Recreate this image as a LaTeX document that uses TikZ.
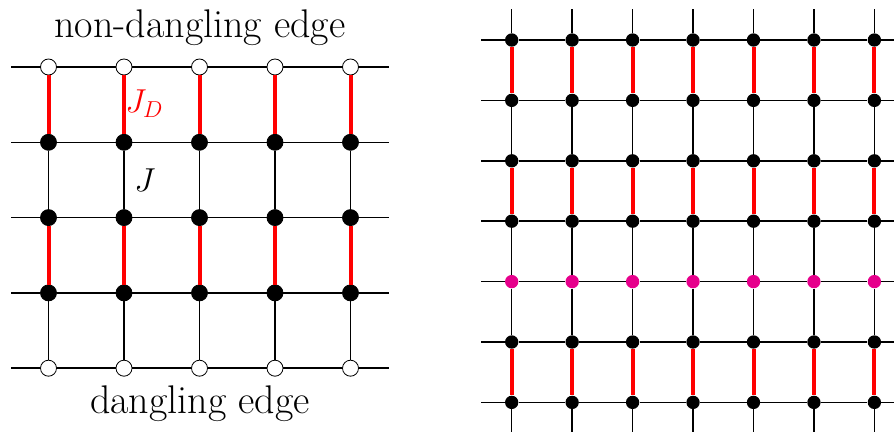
\documentclass[tikz,border=0pt]{standalone}
\usepackage{amsmath}
\definecolor{sitemagenta}{RGB}{230,0,140}

\begin{document}
\begin{tikzpicture}[
  x=0.75pt, y=-0.75pt,
  site/.style={circle, draw, fill=black, line width=0.6pt, minimum size=12pt, inner sep=0pt},
  edgesite/.style={circle, draw, fill=white, line width=0.6pt, minimum size=12pt, inner sep=0pt},
  smallsite/.style={circle, fill=black, minimum size=10pt, inner sep=0pt},
  cutsite/.style={circle, fill=sitemagenta, minimum size=10pt, inner sep=0pt},
  bond/.style={line width=1.1pt},
  dimer/.style={line width=3pt, red},
  caption/.style={font=\fontsize{30}{34}\selectfont, inner sep=0pt},
  coupling/.style={font=\fontsize{24}{27}\selectfont, inner sep=0pt}
]
  \useasboundingbox (0,0) rectangle (894,432);

  % Left panel: five columns, open sites on the top and bottom rows.
  \foreach \i in {1,...,5} {
    \foreach \j in {1,...,5} {
      \pgfmathsetmacro{\xx}{48.5+75.5*(\i-1)}
      \pgfmathsetmacro{\yy}{67+75.3*(\j-1)}
      \ifnum\j=1
        \node[edgesite] (L-\i-\j) at (\xx,\yy) {};
      \else\ifnum\j=5
        \node[edgesite] (L-\i-\j) at (\xx,\yy) {};
      \else
        \node[site] (L-\i-\j) at (\xx,\yy) {};
      \fi\fi
    }
  }
  \foreach \j in {1,...,5} {
    \pgfmathsetmacro{\yy}{67+75.3*(\j-1)}
    \coordinate (Lw-\j) at (11,\yy);
    \coordinate (Le-\j) at (389,\yy);
    \draw[bond] (Lw-\j) -- (L-1-\j);
    \draw[bond] (L-5-\j) -- (Le-\j);
    \foreach \i/\k in {1/2, 2/3, 3/4, 4/5} {
      \draw[bond] (L-\i-\j) -- (L-\k-\j);
    }
  }
  % Vertical bonds: red dimers alternate with plain couplings.
  \foreach \i in {1,...,5} {
    \draw[dimer] (L-\i-1) -- (L-\i-2);
    \draw[bond] (L-\i-2) -- (L-\i-3);
    \draw[dimer] (L-\i-3) -- (L-\i-4);
    \draw[bond] (L-\i-4) -- (L-\i-5);
  }

  \node[caption, anchor=base] (top) at (200,37) {non-dangling edge};
  \node[caption, anchor=base] (bottom) at (200,413) {dangling edge};
  \node[coupling, anchor=base west, text=red] (JD) at (125,113) {$J_D$};
  \node[coupling, anchor=base west] (J) at (134,191) {$J$};

  % Right panel: seven by seven, the middle row coloured.
  \foreach \i in {1,...,7} {
    \foreach \j in {1,...,7} {
      \pgfmathsetmacro{\xx}{511.7+60.45*(\i-1)}
      \pgfmathsetmacro{\yy}{40+60.4*(\j-1)}
      \ifnum\j=5
        \node[cutsite] (R-\i-\j) at (\xx,\yy) {};
      \else
        \node[smallsite] (R-\i-\j) at (\xx,\yy) {};
      \fi
    }
  }
  \foreach \j in {1,...,7} {
    \pgfmathsetmacro{\yy}{40+60.4*(\j-1)}
    \coordinate (Rw-\j) at (481,\yy);
    \coordinate (Re-\j) at (894,\yy);
    \draw[bond] (Rw-\j) -- (R-1-\j);
    \draw[bond] (R-7-\j) -- (Re-\j);
    \foreach \i/\k in {1/2, 2/3, 3/4, 4/5, 5/6, 6/7} {
      \draw[bond] (R-\i-\j) -- (R-\k-\j);
    }
  }
  \foreach \i in {1,...,7} {
    \pgfmathsetmacro{\xx}{511.7+60.45*(\i-1)}
    \coordinate (Rn-\i) at (\xx,9);
    \coordinate (Rs-\i) at (\xx,432);
    \draw[bond] (Rn-\i) -- (R-\i-1);
    \draw[dimer] (R-\i-1) -- (R-\i-2);
    \draw[bond] (R-\i-2) -- (R-\i-3);
    \draw[dimer] (R-\i-3) -- (R-\i-4);
    \draw[bond] (R-\i-4) -- (R-\i-5);
    \draw[bond] (R-\i-5) -- (R-\i-6);
    \draw[dimer] (R-\i-6) -- (R-\i-7);
    \draw[bond] (R-\i-7) -- (Rs-\i);
  }
\end{tikzpicture}
\end{document}
